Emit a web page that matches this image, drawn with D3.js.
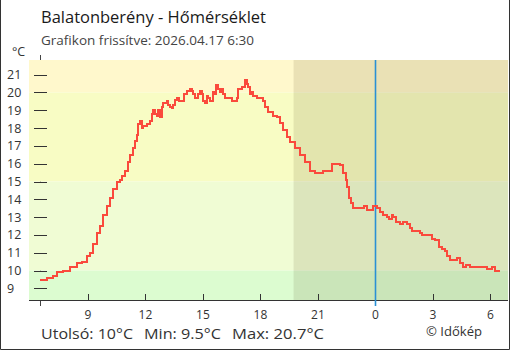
<!DOCTYPE html>
<html><head><meta charset="utf-8">
<script src="https://cdn.jsdelivr.net/npm/d3@7/dist/d3.min.js"></script>
<style>
html,body{margin:0;padding:0;background:#fff;}
svg{display:block;font-family:"Open Sans","Noto Sans",sans-serif;}
</style></head>
<body>
<svg id="chart" width="510" height="350"></svg>
<script>
// ---- data ----
const title = "Balatonberény - Hőmérséklet";
const subtitle = "Grafikon frissítve: 2026.04.17 6:30";
const times = ["06:30","06:53","07:11","07:22","07:43","08:04","08:25","08:40","08:56","09:06","09:17","09:27","09:38","09:48","09:59","10:09","10:19","10:30","10:40","10:46","10:56","11:06","11:12","11:22","11:27","11:33","11:38","11:43","11:48","11:53","12:04","12:14","12:20","12:25","12:30","12:35","12:40","12:46","12:51","12:56","13:07","13:12","13:17","13:22","13:27","13:33","13:40","13:46","13:53","14:02","14:09","14:20","14:25","14:30","14:35","14:40","14:45","14:51","14:56","15:01","15:06","15:12","15:17","15:22","15:31","15:36","15:41","15:48","15:53","15:59","16:04","16:09","16:19","16:30","16:35","16:46","16:51","17:01","17:06","17:12","17:17","17:22","17:27","17:33","17:38","17:48","18:04","18:09","18:14","18:25","18:35","18:40","18:51","19:01","19:11","19:22","19:32","19:48","20:04","20:19","20:35","20:51","21:06","21:17","21:32","21:43","21:59","22:09","22:19","22:28","22:32","22:36","22:42","22:51","23:01","23:17","23:24","23:34","23:48","23:53","00:04","00:14","00:24","00:35","00:43","00:51","00:56","01:04","01:17","01:27","01:38","01:48","01:56","02:09","02:19","02:25","02:45","02:56","03:06","03:13","03:20","03:27","03:37","03:43","03:53","04:09","04:14","04:24","04:33","04:43","04:56","05:37","05:48","06:04","06:14","06:27","06:30"];
const temps = [9.5,9.6,9.7,9.9,10.0,10.2,10.4,10.5,10.8,11.0,11.5,12.1,12.5,13.1,13.6,14.1,14.6,15.0,15.1,15.3,15.6,16.1,16.5,16.9,17.3,17.6,18.2,18.4,18.0,18.1,18.2,18.4,18.8,19.0,18.8,18.7,19.0,18.6,19.2,19.4,19.5,19.3,19.2,19.1,19.3,19.6,19.7,19.5,19.5,19.9,20.1,20.2,20.1,19.9,19.7,19.7,19.9,20.1,19.9,19.5,19.4,19.8,19.7,19.5,20.0,19.9,20.4,20.2,20.0,20.2,19.9,19.7,19.7,19.5,19.5,19.7,20.2,20.3,20.3,20.7,20.5,20.3,19.9,20.0,19.8,19.7,19.7,19.5,19.2,18.9,18.9,18.7,18.6,18.3,17.9,17.5,17.2,16.9,16.5,16.1,15.6,15.5,15.5,15.6,15.6,16.0,16.0,15.9,15.5,15.1,14.7,14.1,13.8,13.5,13.5,13.5,13.6,13.4,13.4,13.6,13.5,13.3,13.1,13.0,12.9,13.1,13.0,12.7,12.6,12.7,12.6,12.4,12.2,12.2,12.1,12.0,12.0,11.8,11.7,11.7,11.3,11.2,11.1,10.8,10.6,10.6,10.7,10.4,10.2,10.3,10.2,10.2,10.1,10.2,10.0,10.0,10.0];
const yTicks = [9,10,11,12,13,14,15,16,17,18,19,20,21];
const xTickHours = [9,12,15,18,21,24,27,30];
const bandLimits = [21.82,20,15,10,8.35];
const bandColors = ["#fff8cc","#f8fcc4","#f0fcd4","#dcfcd0"];
const sunsetHour = 19.73;
const startHour = 6.5, endHour = 30.5;
const statLabels = ["Utolsó: 10°C","Min: 9.5°C","Max: 20.7°C"];
const credit = "© Időkép";

const hours = times.map(t => {
  const [h,m] = t.split(":").map(Number);
  let v = h + m/60;
  if (v < startHour - 0.01) v += 24;
  return v;
});
const data = hours.map((h,i)=>({h, t:temps[i]}));
data[data.length-1].h = endHour;

const svg = d3.select("#chart");
const plotL = 29, plotR = 508, plotT = 60, plotB = 300;

const x = d3.scaleLinear().domain([startHour,endHour]).range([40,500]);
const y = d3.scaleLinear().domain([8.35,21.82]).range([plotB,plotT]);

svg.append("line").attr("x1",40.5).attr("x2",40.5).attr("y1",55).attr("y2",306)
  .attr("stroke","#444").attr("stroke-width",1);

const bands = d3.range(bandColors.length).map(i=>({top:bandLimits[i],bot:bandLimits[i+1],c:bandColors[i]}));
svg.selectAll("rect.band").data(bands).join("rect").attr("class","band")
  .attr("x",plotL).attr("width",plotR-plotL)
  .attr("y",d=>y(d.top)).attr("height",d=>y(d.bot)-y(d.top))
  .attr("fill",d=>d.c);

svg.append("rect").attr("x",x(sunsetHour)).attr("y",plotT)
  .attr("width",plotR-x(sunsetHour)).attr("height",plotB-plotT)
  .attr("fill","rgba(60,50,0,0.11)");

const yg = svg.append("g");
yg.selectAll("line").data(yTicks).join("line")
  .attr("x1",34).attr("x2",47)
  .attr("y1",d=>Math.round(y(d))+0.5).attr("y2",d=>Math.round(y(d))+0.5)
  .attr("stroke","#333").attr("stroke-width",1);
yg.selectAll("text").data(yTicks).join("text")
  .attr("x",7).attr("y",d=>y(d)+4.5)
  .attr("font-size",12.5).attr("fill","#333").text(d=>d);
svg.append("text").attr("x",12).attr("y",56).attr("font-size",12.5).attr("fill","#333").text("°C");

svg.append("line").attr("x1",plotL).attr("x2",plotR).attr("y1",300.5).attr("y2",300.5)
  .attr("stroke","#333").attr("stroke-width",1);
const xg = svg.append("g");
xg.selectAll("line").data(xTickHours.filter(h=>h!==24)).join("line")
  .attr("x1",d=>Math.round(x(d))+0.5).attr("x2",d=>Math.round(x(d))+0.5)
  .attr("y1",294).attr("y2",300).attr("stroke","#333");
xg.selectAll("text").data(xTickHours).join("text")
  .attr("x",d=>x(d)).attr("y",319).attr("text-anchor","middle")
  .attr("font-size",12).attr("fill","#333").text(d=>d%24);

svg.append("line").attr("x1",Math.round(x(24))+0.5).attr("x2",Math.round(x(24))+0.5)
  .attr("y1",plotT).attr("y2",306).attr("stroke","#2a90d4").attr("stroke-width",1.6);

const line = d3.line().x(d=>x(d.h)).y(d=>y(d.t)).curve(d3.curveStepAfter);
svg.append("path").datum(data).attr("d",line)
  .attr("fill","none").attr("stroke","#fa4a3c").attr("stroke-width",2)
  .attr("shape-rendering","crispEdges");

svg.append("text").attr("x",41).attr("y",23).attr("font-size",16).attr("fill","#1a1a1a")
  .attr("textLength",225).attr("lengthAdjust","spacingAndGlyphs").text(title);
svg.append("text").attr("x",41).attr("y",45).attr("font-size",12).attr("fill","#444")
  .attr("textLength",213).attr("lengthAdjust","spacingAndGlyphs").text(subtitle);

const statX = [41,144,232], statW = [92,77,92];
svg.selectAll("text.stat").data(statLabels).join("text").attr("class","stat")
  .attr("x",(d,i)=>statX[i]).attr("y",339).attr("font-size",15).attr("fill","#333")
  .attr("textLength",(d,i)=>statW[i]).attr("lengthAdjust","spacingAndGlyphs").text(d=>d);
svg.append("text").attr("x",426).attr("y",336).attr("font-size",13).attr("fill","#333")
  .attr("textLength",56).attr("lengthAdjust","spacingAndGlyphs").text(credit);

svg.append("path").attr("d","M0.5,0 V349.5 H509.5 V0").attr("fill","none").attr("stroke","#333").attr("stroke-width",1);
</script>
</body></html>
